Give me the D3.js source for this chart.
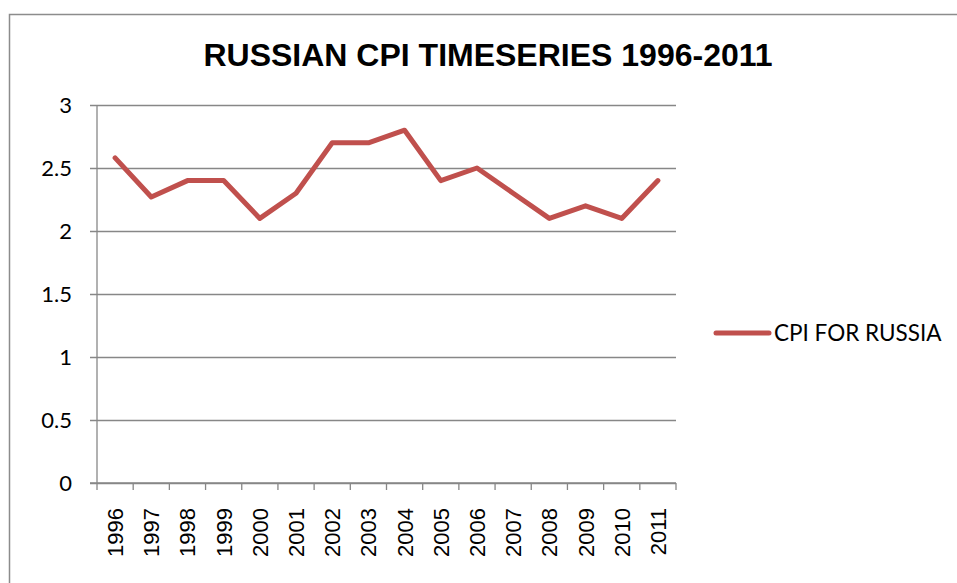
<!DOCTYPE html>
<html>
<head>
<meta charset="utf-8">
<script src="https://cdn.jsdelivr.net/npm/d3@7"></script>
<style>
  body { margin: 0; background: #fff; }
  svg { display: block; }
</style>
</head>
<body>
<div id="chart"></div>
<script>
// chart data
let years = ["1996", "1997", "1998", "1999", "2000", "2001", "2002", "2003",
             "2004", "2005", "2006", "2007", "2008", "2009", "2010", "2011"];
let cpi_values = [2.58, 2.27, 2.4, 2.4, 2.1, 2.3, 2.7, 2.7,
                  2.8, 2.4, 2.5, 2.3, 2.1, 2.2, 2.1, 2.4];
let y_ticks = [0, 0.5, 1, 1.5, 2, 2.5, 3];
let series_name = "CPI FOR RUSSIA";
let chart_title = "RUSSIAN CPI TIMESERIES 1996-2011";

let width = 957, height = 583;
let margin = {left: 97, right: 281, top: 105, bottom: 100};
let line_color = "#C0504D";
let grid_color = "#878787";
let label_font = "Lato, 'Open Sans', sans-serif";

let svg = d3.select("#chart").append("svg")
    .attr("width", width)
    .attr("height", height);

// outer frame (runs off the right/bottom of the picture)
svg.append("rect")
    .attr("x", 9.5).attr("y", 14.5)
    .attr("width", 1000).attr("height", 1000)
    .attr("fill", "none")
    .attr("stroke", "#8c8c8c")
    .attr("stroke-width", 1.5);

// scales
let x = d3.scaleBand()
    .domain(years)
    .range([margin.left, width - margin.right]);

let y = d3.scaleLinear()
    .domain([0, 3])
    .range([height - margin.bottom, margin.top]);

// horizontal grid + y axis
let y_axis = svg.append("g")
    .attr("transform", "translate(" + margin.left + ",0)")
    .call(d3.axisLeft(y)
        .tickValues(y_ticks)
        .tickSize(-(width - margin.left - margin.right))
        .tickPadding(25)
        .tickFormat(d3.format("")));
y_axis.select(".domain").remove();
y_axis.selectAll(".tick line")
    .attr("stroke", grid_color)
    .attr("stroke-width", 1.3)
    .attr("x1", -7);
y_axis.selectAll(".tick text")
    .attr("font-family", label_font)
    .attr("font-size", "22px")
    .attr("fill", "#000");

// vertical axis line
svg.append("line")
    .attr("x1", margin.left).attr("x2", margin.left)
    .attr("y1", margin.top).attr("y2", height - margin.bottom)
    .attr("stroke", grid_color)
    .attr("stroke-width", 1.3);

// x axis with ticks between categories
let x_axis = svg.append("g")
    .attr("transform", "translate(0," + (height - margin.bottom) + ")");
x_axis.append("line")
    .attr("x1", margin.left - 7).attr("x2", width - margin.right)
    .attr("stroke", grid_color)
    .attr("stroke-width", 1.3);
let tick_pos = years.map(function (d) { return x(d); }).concat([x.range()[1]]);
x_axis.selectAll(".xtick")
    .data(tick_pos)
    .enter().append("line")
    .attr("class", "xtick")
    .attr("x1", function (d) { return d; })
    .attr("x2", function (d) { return d; })
    .attr("y1", 0).attr("y2", 7)
    .attr("stroke", grid_color)
    .attr("stroke-width", 1.3);
x_axis.selectAll(".xlabel")
    .data(years)
    .enter().append("text")
    .attr("class", "xlabel")
    .attr("transform", function (d) {
        return "translate(" + (x(d) + x.bandwidth() / 2 + 8) + ",25) rotate(-90)";
    })
    .attr("text-anchor", "end")
    .attr("font-family", "'Liberation Sans', Arial, sans-serif")
    .attr("font-size", "22px")
    .attr("fill", "#000")
    .text(function (d) { return d; });

// the series line
let line = d3.line()
    .x(function (d, i) { return x(years[i]) + x.bandwidth() / 2; })
    .y(function (d) { return y(d); });

svg.append("path")
    .datum(cpi_values)
    .attr("d", line)
    .attr("fill", "none")
    .attr("stroke", line_color)
    .attr("stroke-width", 5)
    .attr("stroke-linejoin", "round")
    .attr("stroke-linecap", "round");

// title
svg.append("text")
    .attr("x", 488).attr("y", 66)
    .attr("text-anchor", "middle")
    .attr("font-family", "'Liberation Sans', Arial, sans-serif")
    .attr("font-weight", "bold")
    .attr("font-size", "32px")
    .attr("fill", "#000")
    .text(chart_title);

// legend
let legend = svg.append("g").attr("transform", "translate(716,333)");
legend.append("line")
    .attr("x1", 0).attr("x2", 53)
    .attr("stroke", line_color)
    .attr("stroke-width", 5)
    .attr("stroke-linecap", "round");
legend.append("text")
    .attr("x", 58).attr("y", 8)
    .attr("font-family", label_font)
    .attr("font-size", "22.5px")
    .attr("fill", "#000")
    .text(series_name);
</script>
</body>
</html>
